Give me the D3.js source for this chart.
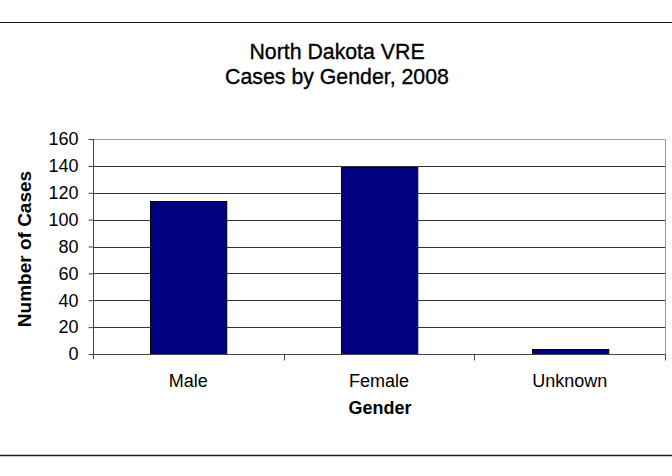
<!DOCTYPE html>
<html>
<head>
<meta charset="utf-8">
<script src="https://cdn.jsdelivr.net/npm/d3@7"></script>
<style>
  html, body { margin: 0; padding: 0; background: #fff; }
  svg { display: block; font-family: "Liberation Sans", Arial, sans-serif; }
</style>
</head>
<body>
<svg id="chart" width="672" height="476"></svg>
<script>
const categories = ["Male", "Female", "Unknown"];
const values = [114, 139, 4];
const yTicks = [0, 20, 40, 60, 80, 100, 120, 140, 160];
const titleLines = ["North Dakota VRE", "Cases by Gender, 2008"];
const xTitle = "Gender";
const yTitle = "Number of Cases";

const svg = d3.select("#chart");
const W = 672, H = 476;
const plot = { left: 93, right: 665, top: 139, bottom: 354 };

// frame lines
svg.append("line").attr("x1", 0).attr("x2", W).attr("y1", 22.5).attr("y2", 22.5)
  .attr("stroke", "#1a1a1a").attr("stroke-width", 1.2);
svg.append("line").attr("x1", 0).attr("x2", W).attr("y1", 455.5).attr("y2", 455.5)
  .attr("stroke", "#1a1a1a").attr("stroke-width", 1.5);

// title
svg.append("text").attr("x", 337).attr("y", 59).attr("text-anchor", "middle")
  .attr("font-size", 21.3).attr("fill", "#000")
  .attr("stroke", "#000").attr("stroke-width", 0.35)
  .selectAll("tspan").data(titleLines).join("tspan")
  .attr("x", 337).attr("dy", (d, i) => i === 0 ? 0 : 24.5).text(d => d);

const x = d3.scaleBand().domain(categories).range([plot.left, plot.right])
  .paddingInner(0.6).paddingOuter(0.3);
const xb = d3.scaleBand().domain(categories).range([plot.left, plot.right]).padding(0);
const y = d3.scaleLinear().domain([0, 160]).range([plot.bottom, plot.top]);

// gridlines
svg.append("g").selectAll("line").data(yTicks.filter(t => t > 0 && t < 160)).join("line")
  .attr("x1", plot.left).attr("x2", plot.right)
  .attr("y1", d => Math.round(y(d)) + 0.5).attr("y2", d => Math.round(y(d)) + 0.5)
  .attr("stroke", "#333").attr("stroke-width", 1);

// plot border (top & right)
svg.append("path")
  .attr("d", `M${plot.left},${Math.round(y(160)) + 0.5}H${plot.right + 0.5}V${plot.bottom}`)
  .attr("fill", "none").attr("stroke", "#999").attr("stroke-width", 1);

// bars
svg.append("g").selectAll("rect").data(values).join("rect")
  .attr("x", (d, i) => Math.round(x(categories[i])) + 0.5)
  .attr("y", d => Math.round(y(d)) + 0.5)
  .attr("width", x.bandwidth())
  .attr("height", d => Math.round(y(0)) - Math.round(y(d)))
  .attr("fill", "#000080").attr("stroke", "#000").attr("stroke-width", 1);

// y axis
const yAxis = d3.axisLeft(y).tickValues(yTicks).tickSize(5).tickPadding(10).tickFormat(d3.format("d"));
const gy = svg.append("g").attr("transform", `translate(${plot.left + 0.5},0)`).call(yAxis);
gy.select(".domain").attr("stroke", "#444").attr("d", `M0,${plot.top}V${plot.bottom + 5}`);
gy.selectAll(".tick line").attr("stroke", "#444");
gy.selectAll(".tick text").attr("font-size", 18).attr("fill", "#000")
  .attr("font-family", "'Liberation Sans', Arial, sans-serif");

// x axis
const xAxis = d3.axisBottom(xb).tickSize(0).tickPadding(20);
const gx = svg.append("g").attr("transform", `translate(0,${plot.bottom + 0.5})`).call(xAxis);
gx.select(".domain").attr("stroke", "#444").attr("d", `M${plot.left},0H${plot.right + 0.5}`);
gx.selectAll(".tick text").attr("font-size", 18).attr("fill", "#000")
  .attr("font-family", "'Liberation Sans', Arial, sans-serif");
// category boundary ticks
const bounds = categories.map(c => xb(c)).concat([plot.right]).slice(1);
gx.append("g").selectAll("line").data(bounds).join("line")
  .attr("x1", d => Math.round(d) + 0.5).attr("x2", d => Math.round(d) + 0.5)
  .attr("y1", 0).attr("y2", 6).attr("stroke", "#444");

// axis titles
svg.append("text").attr("x", 380).attr("y", 414).attr("text-anchor", "middle")
  .attr("font-size", 18).attr("font-weight", "bold").attr("fill", "#000").text(xTitle);
svg.append("text").attr("transform", "translate(31,249) rotate(-90)").attr("text-anchor", "middle")
  .attr("font-size", 19).attr("font-weight", "bold").attr("fill", "#000").text(yTitle);
</script>
</body>
</html>
